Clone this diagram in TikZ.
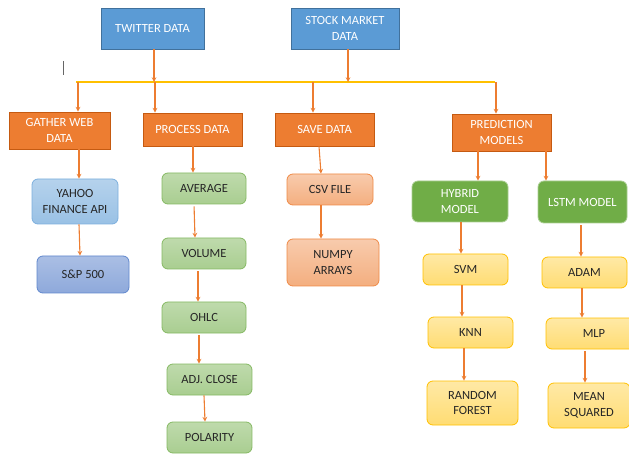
\documentclass[tikz,border=0pt]{standalone}
\usepackage{fontspec}
\setmainfont{Carlito}

\definecolor{topblue}{HTML}{5B9BD5}
\definecolor{topblueline}{HTML}{41719C}
\definecolor{stageorange}{HTML}{ED7D31}
\definecolor{stageline}{HTML}{C55A11}
\definecolor{modelgreen}{HTML}{70AD47}
\definecolor{busyellow}{HTML}{FFC000}
\definecolor{indexblue}{HTML}{8EA9DB}
\definecolor{indexline}{HTML}{4472C4}
\definecolor{textdark}{HTML}{262626}

\begin{document}
\begin{tikzpicture}[
    x=1pt, y=-1pt,
    block/.style={
        rectangle,
        line width=0.8pt,
        minimum width=84pt,
        minimum height=31pt,
        inner sep=1pt,
        align=center,
        font=\fontsize{12.5}{15.5}\selectfont
    },
    source/.style={
        block,
        fill=topblue,
        draw=topblueline,
        text=white,
        minimum height=41pt
    },
    stage/.style={
        block,
        fill=stageorange,
        draw=stageline,
        text=white,
        minimum width=99pt
    },
    soft/.style={
        block,
        rounded corners=6pt,
        text=textdark
    },
    apibox/.style={
        soft,
        top color=topblue!45,
        bottom color=topblue!62,
        draw=topblue!80
    },
    indexbox/.style={
        soft,
        top color=indexblue!75,
        bottom color=indexblue,
        draw=indexline!85
    },
    feature/.style={
        soft,
        top color=modelgreen!45,
        bottom color=modelgreen!60,
        draw=modelgreen!85
    },
    filebox/.style={
        soft,
        top color=stageorange!40,
        bottom color=stageorange!62,
        draw=stageorange!90
    },
    model/.style={
        soft,
        fill=modelgreen,
        draw=modelgreen!60,
        text=white
    },
    method/.style={
        soft,
        top color=busyellow!35,
        bottom color=busyellow!55,
        draw=busyellow
    },
    arrow/.style={
        ->,
        >=stealth,
        line width=1.1pt,
        stageorange
    },
    bus/.style={
        line width=2pt,
        busyellow
    }
]

\useasboundingbox (0,0) rectangle (629,454);

% --- Data sources ---
\node[source, minimum width=103pt] (A) at (152.5,28.5) {TWITTER DATA};
\node[source, minimum width=108pt] (B) at (345,28.5) {STOCK MARKET\\DATA};

% --- Stages ---
\node[stage, minimum width=101pt, minimum height=37pt] (C) at (59.5,130.5) {GATHER WEB\\DATA};
\node[stage, minimum height=33pt] (D) at (192.5,129.5) {PROCESS DATA};
\node[stage, minimum height=33pt] (E) at (324.5,129.5) {SAVE DATA};
\node[stage, minimum height=37pt] (F) at (501.5,132.5) {PREDICTION\\MODELS};

% --- Bus line ---
\coordinate (busL) at (76,82);
\coordinate (busR) at (495,82);
\coordinate (c0) at (78,82);
\coordinate (d0) at (155,82);
\coordinate (e0) at (313,82);
\coordinate (f0) at (496,82);

\draw[bus] (busL) -- (busR);
\draw[black!60, line width=1pt] (63,61) -- (63,75);

\draw[arrow] ([xshift=1.5pt]A.south) -- ([xshift=1.5pt]A.south |- busL);
\draw[arrow] ([xshift=3pt]B.south) -- ([xshift=3pt]B.south |- busL);
\draw[arrow] (c0) -- (c0 |- C.north);
\draw[arrow] (d0) -- (d0 |- D.north);
\draw[arrow] (e0) -- (e0 |- E.north);
\draw[arrow] (f0) -- (f0 |- F.north);

% --- Gather web data ---
\node[apibox, minimum width=86pt, minimum height=45pt] (G) at (75,201.5) {YAHOO\\FINANCE API};
\node[indexbox, minimum width=92pt, minimum height=37pt] (H) at (83,274.5) {S\&P 500};

\draw[arrow] ([xshift=19.5pt]C.south) -- ([xshift=4pt]G.north);
\draw[arrow] ([xshift=4pt]G.south) -- ([xshift=-3pt]H.north);

% --- Process data ---
\node[feature] (I) at (204,188.5) {AVERAGE};
\node[feature] (J) at (204,253.5) {VOLUME};
\node[feature] (K) at (204,317.5) {OHLC};
\node[feature, minimum width=85pt] (L) at (209.5,379.5) {ADJ. CLOSE};
\node[feature, minimum width=85pt] (M) at (209.5,437.5) {POLARITY};

\draw[arrow] ([xshift=0.5pt]D.south) -- ([xshift=-11pt]I.north);
\draw[arrow, shorten <=2pt] ([xshift=-10pt]I.south) -- ([xshift=-9pt]J.north);
\draw[arrow, shorten <=2pt] ([xshift=-6pt]J.south) -- ([xshift=-6pt]K.north);
\draw[arrow, shorten <=2pt] ([xshift=-5pt]K.south) -- ([xshift=-10.5pt]L.north);
\draw[arrow] ([xshift=-5.5pt]L.south) -- ([xshift=-4.5pt]M.north);

% --- Save data ---
\node[filebox, minimum width=86pt] (N) at (330,189.5) {CSV FILE};
\node[filebox, minimum width=92pt, minimum height=47pt] (O) at (333,262.5) {NUMPY\\ARRAYS};

\draw[arrow] ([xshift=-5.5pt]E.south) -- ([xshift=-9pt]N.north);
\draw[arrow] ([xshift=-9pt]N.south) -- ([xshift=-12pt]O.north);

% --- Prediction models ---
\node[model, minimum width=96pt, minimum height=41pt] (P) at (460,201.5) {HYBRID\\MODEL};
\node[model, minimum width=89pt, minimum height=42pt] (Q) at (582.5,202) {LSTM MODEL};

\draw[arrow] ([xshift=-23.5pt]F.south) -- ([xshift=18pt]P.north);
\draw[arrow] ([xshift=44.5pt]F.south) -- ([xshift=-36.5pt]Q.north);

\node[method, minimum width=85pt] (R) at (465.5,269.5) {SVM};
\node[method, minimum width=85pt] (S) at (470.5,332.5) {KNN};
\node[method, minimum width=91pt, minimum height=44pt] (T) at (472.5,403) {RANDOM\\FOREST};

\draw[arrow] ([xshift=1pt]P.south) -- ([xshift=-4.5pt]R.north);
\draw[arrow] ([xshift=-3.5pt]R.south) -- ([xshift=-8.5pt]S.north);
\draw[arrow] ([xshift=-6.5pt]S.south) -- ([xshift=-8.5pt]T.north);

\node[method, minimum width=85pt] (U) at (584.5,272.5) {ADAM};
\node[method, minimum width=96pt] (V) at (594,333.5) {MLP};
\node[method, minimum width=82pt, minimum height=45pt] (W) at (589,405.5) {MEAN\\SQUARED};

\draw[arrow, shorten <=2pt] ([xshift=-1.5pt]Q.south) -- ([xshift=-3.5pt]U.north);
\draw[arrow] ([xshift=-2.5pt]U.south) -- ([xshift=-12pt]V.north);
\draw[arrow, shorten <=2pt] ([xshift=-9pt]V.south) -- ([xshift=-4pt]W.north);

\end{tikzpicture}
\end{document}
